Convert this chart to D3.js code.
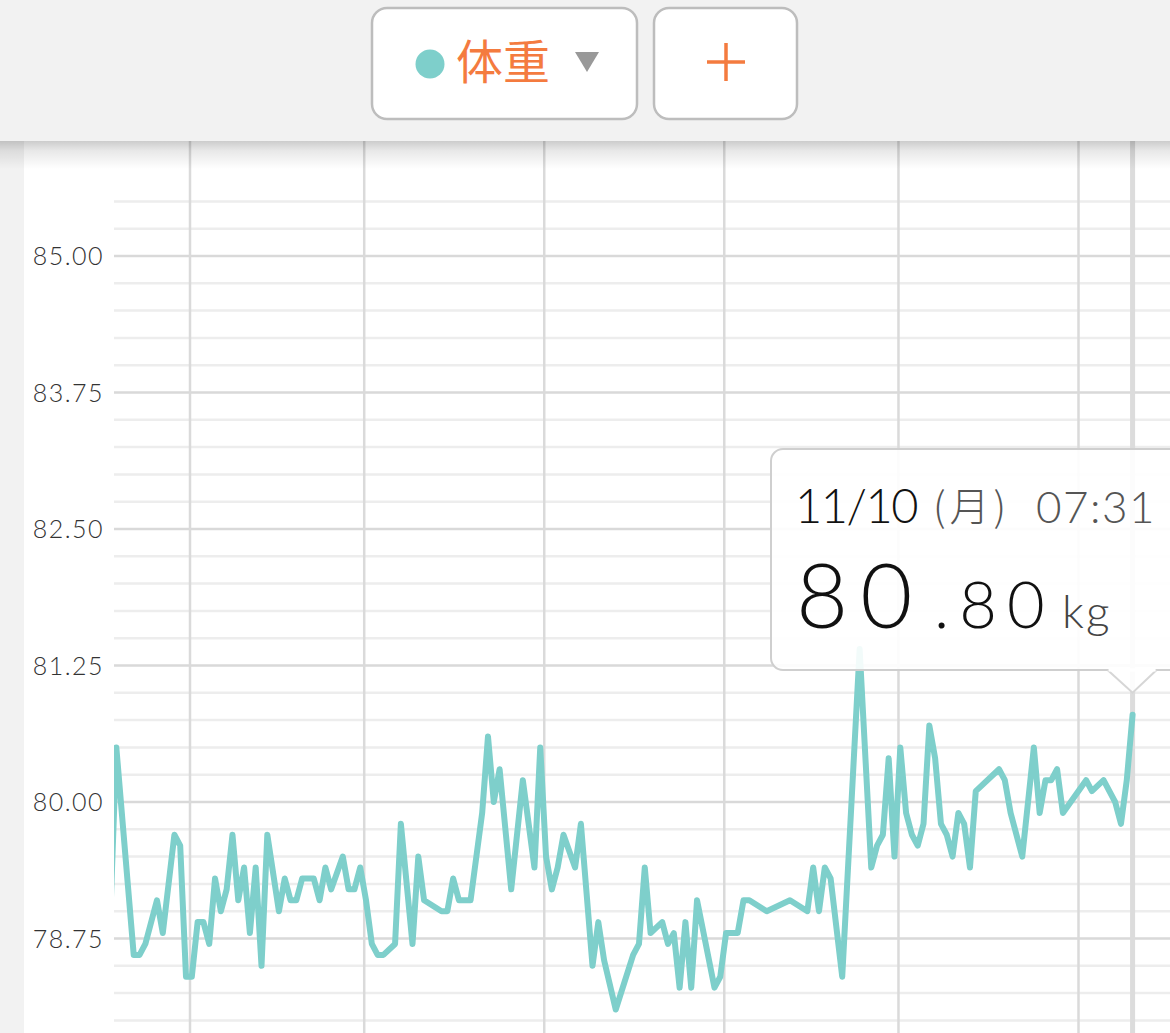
<!DOCTYPE html>
<html>
<head>
<meta charset="utf-8">
<script src="https://cdn.jsdelivr.net/npm/d3@7.9.0/dist/d3.min.js"></script>
<style>
  html, body { margin: 0; padding: 0; background: #f2f2f2; overflow: hidden; }
  svg { display: block; }
  .num { font-family: Lato, "Open Sans", sans-serif; }
</style>
</head>
<body>
<svg id="chart" width="1170" height="1033"></svg>
<script>
// daily weigh-ins (2025)
const dates = [
  '05-18', '05-19', '05-22', '05-23', '05-24', '05-26', '05-27', '05-29', '05-30', '05-31',
  '06-01', '06-02', '06-03', '06-04', '06-05', '06-06', '06-07', '06-08', '06-09', '06-10',
  '06-11', '06-12', '06-13', '06-14', '06-16', '06-17', '06-18', '06-19', '06-20', '06-22',
  '06-23', '06-24', '06-25', '06-27', '06-28', '06-29', '06-30',
  '07-01', '07-02', '07-03', '07-04', '07-06', '07-07', '07-09', '07-10', '07-11', '07-14',
  '07-15', '07-16', '07-17', '07-19', '07-21', '07-22', '07-23', '07-24', '07-26', '07-28',
  '07-30', '07-31',
  '08-01', '08-02', '08-03', '08-04', '08-06', '08-07', '08-09', '08-10', '08-11', '08-13',
  '08-16', '08-17', '08-18', '08-19', '08-21', '08-22', '08-23', '08-24', '08-25', '08-26',
  '08-27', '08-30', '08-31',
  '09-01', '09-03', '09-04', '09-05', '09-08', '09-12', '09-15', '09-16', '09-17', '09-18',
  '09-19', '09-21', '09-24', '09-26', '09-27', '09-28', '09-29', '09-30',
  '10-01', '10-02', '10-03', '10-04', '10-05', '10-06', '10-07', '10-08', '10-09', '10-10',
  '10-11', '10-12', '10-13', '10-14', '10-18', '10-19', '10-20', '10-22', '10-24', '10-25',
  '10-26', '10-27', '10-28', '10-29',
  '11-02', '11-03', '11-05', '11-07', '11-08', '11-09', '11-10'
];
const weights = [
  79.00, 80.50, 78.60, 78.60, 78.70, 79.10, 78.80, 79.70, 79.60, 78.40,
  78.40, 78.90, 78.90, 78.70, 79.30, 79.00, 79.20, 79.70, 79.10, 79.40,
  78.80, 79.40, 78.50, 79.70, 79.00, 79.30, 79.10, 79.10, 79.30, 79.30,
  79.10, 79.40, 79.20, 79.50, 79.20, 79.20, 79.40,
  79.10, 78.70, 78.60, 78.60, 78.70, 79.80, 78.70, 79.50, 79.10, 79.00,
  79.00, 79.30, 79.10, 79.10, 79.90, 80.60, 80.00, 80.30, 79.20, 80.20,
  79.40, 80.50,
  79.50, 79.20, 79.40, 79.70, 79.40, 79.80, 78.50, 78.90, 78.55, 78.10,
  78.60, 78.70, 79.40, 78.80, 78.90, 78.70, 78.80, 78.30, 78.90, 78.30,
  79.10, 78.30, 78.40,
  78.80, 78.80, 79.10, 79.10, 79.00, 79.10, 79.00, 79.40, 79.00, 79.40,
  79.30, 78.40, 81.40, 79.40, 79.60, 79.70, 80.40, 79.50,
  80.50, 79.90, 79.70, 79.60, 79.80, 80.70, 80.40, 79.80, 79.70, 79.50,
  79.90, 79.80, 79.40, 80.10, 80.30, 80.20, 79.90, 79.50, 80.50, 79.90,
  80.20, 80.20, 80.30, 79.90,
  80.20, 80.10, 80.20, 80.00, 79.80, 80.20, 80.80
];
const yTicks = [78.75, 80.00, 81.25, 82.50, 83.75, 85.00];
const selected = { date: '11-10', time: '07:31', weekday: '月', value: 80.80 };

const W = 1170, H = 1033;
const svg = d3.select('#chart');
const parse = d3.timeParse('%Y-%m-%d %H:%M');
const data = dates.map((d, i) => ({ date: parse(`2025-${d} 07:30`), value: weights[i] }));
const selDate = parse(`2025-${selected.date} ${selected.time}`);

const x = d3.scaleTime()
  .domain([new Date(2025, 5, 1), new Date(2025, 10, 1)])
  .range([190, 1078.5]);
const y = d3.scaleLinear().domain([80, 85]).range([802, 256]);

const defs = svg.append('defs');
const shade = defs.append('linearGradient').attr('id', 'shade').attr('x1', 0).attr('x2', 0).attr('y1', 0).attr('y2', 1);
shade.append('stop').attr('offset', 0).attr('stop-color', '#000').attr('stop-opacity', 0.2);
shade.append('stop').attr('offset', 0.35).attr('stop-color', '#000').attr('stop-opacity', 0.09);
shade.append('stop').attr('offset', 1).attr('stop-color', '#000').attr('stop-opacity', 0);
defs.append('clipPath').attr('id', 'plot')
  .append('rect').attr('x', 114).attr('y', 141).attr('width', W - 114).attr('height', H - 141);

// white card
svg.append('rect').attr('x', 24).attr('y', 141).attr('width', W - 24).attr('height', H - 141).attr('fill', '#fff');

// horizontal grid: every 0.25, darker every 1.25
const gridVals = d3.range(77.75, 85.51, 0.25);
svg.append('g').selectAll('line').data(gridVals).join('line')
  .attr('x1', 114).attr('x2', W)
  .attr('y1', d => y(d)).attr('y2', d => y(d))
  .attr('stroke', d => yTicks.some(t => Math.abs(t - d) < 1e-6) ? '#d9d9d9' : '#ededed')
  .attr('stroke-width', 2.5);

// month grid
svg.append('g').selectAll('line').data(d3.timeMonth.range(new Date(2025, 5, 1), new Date(2025, 11, 1))).join('line')
  .attr('x1', d => x(d)).attr('x2', d => x(d))
  .attr('y1', 141).attr('y2', H)
  .attr('stroke', '#dadada').attr('stroke-width', 2.5);

// y labels
svg.append('g').selectAll('text').data(yTicks).join('text')
  .attr('class', 'num')
  .attr('x', 104).attr('y', d => y(d) + 9)
  .attr('text-anchor', 'end')
  .attr('font-size', 25).attr('font-weight', 300)
  .attr('letter-spacing', 1.5)
  .attr('fill', '#333')
  .text(d3.format('.2f'));

// cursor at selected reading
const cx = x(selDate);
svg.append('line').attr('x1', cx).attr('x2', cx).attr('y1', 141).attr('y2', H)
  .attr('stroke', '#dcdcdc').attr('stroke-width', 5);

// weight line
svg.append('path').datum(data)
  .attr('clip-path', 'url(#plot)')
  .attr('fill', 'none')
  .attr('stroke', '#7ecfcb')
  .attr('stroke-width', 6)
  .attr('stroke-linejoin', 'round')
  .attr('stroke-linecap', 'round')
  .attr('d', d3.line().x(d => x(d.date)).y(d => y(d.value)));

// tooltip
const tip = svg.append('g');
const tipTop = 449, tipBot = 670, tipL = 771, tipY = y(selected.value) - 22;
tip.append('rect').attr('x', tipL).attr('y', tipTop).attr('width', 440).attr('height', tipBot - tipTop)
  .attr('rx', 12).attr('fill', '#fff').attr('fill-opacity', 0.9)
  .attr('stroke', '#cfcfcf').attr('stroke-width', 2);
tip.append('path')
  .attr('d', `M${cx - 25},${tipBot}L${cx},${tipY}L${cx + 24},${tipBot}`)
  .attr('fill', '#fff').attr('fill-opacity', 0.9)
  .attr('stroke', '#d6d6d6').attr('stroke-width', 2);
tip.append('line').attr('x1', cx - 24).attr('x2', cx + 23).attr('y1', tipBot).attr('y2', tipBot)
  .attr('stroke', '#fff').attr('stroke-width', 3);

const [mm, dd] = selected.date.split('-').map(Number);
tip.append('text').attr('class', 'num').attr('x', 795).attr('y', 523)
  .attr('font-size', 47).attr('font-weight', 300).attr('fill', '#111').attr('letter-spacing', -1.5)
  .text(`${mm}/${dd}`);
tip.append('text').attr('x', 933).attr('y', 521)
  .attr('font-family', '"Noto Sans CJK JP", sans-serif')
  .attr('font-size', 40).attr('font-weight', 300).attr('fill', '#555').attr('letter-spacing', 4)
  .text(`(${selected.weekday})`);
tip.append('text').attr('class', 'num').attr('x', 1036).attr('y', 523)
  .attr('font-size', 44).attr('font-weight', 300).attr('fill', '#555').attr('letter-spacing', 1.5)
  .text(selected.time);

const [whole, frac] = d3.format('.2f')(selected.value).split('.');
tip.append('text').attr('class', 'num').attr('x', 796).attr('y', 628)
  .attr('font-size', 90).attr('font-weight', 300).attr('fill', '#111').attr('letter-spacing', 12)
  .text(whole);
tip.append('text').attr('class', 'num').attr('x', 934).attr('y', 628)
  .attr('font-size', 65).attr('font-weight', 300).attr('fill', '#111').attr('letter-spacing', 10)
  .text('.' + frac);
tip.append('text').attr('class', 'num').attr('x', 1062).attr('y', 628)
  .attr('font-size', 46).attr('font-weight', 300).attr('fill', '#444').attr('letter-spacing', 2)
  .text('kg');

// header bar
svg.append('rect').attr('width', W).attr('height', 141).attr('fill', '#f2f2f2');
svg.append('rect').attr('y', 141).attr('width', W).attr('height', 28).attr('fill', 'url(#shade)');

const btn = svg.append('g');
btn.append('rect').attr('x', 372).attr('y', 8).attr('width', 265).attr('height', 111).attr('rx', 15)
  .attr('fill', '#fff').attr('stroke', '#bdbdbd').attr('stroke-width', 2.5);
btn.append('circle').attr('cx', 430).attr('cy', 64).attr('r', 14.5).attr('fill', '#7ecfcb');
btn.append('text').attr('x', 456).attr('y', 79)
  .attr('font-family', '"Noto Sans CJK JP", sans-serif').attr('font-size', 47)
  .attr('fill', '#f47b3f').text('体重');
btn.append('path').attr('d', 'M575,52L599,52L587,72Z').attr('fill', '#999');

btn.append('rect').attr('x', 654).attr('y', 8).attr('width', 143).attr('height', 111).attr('rx', 15)
  .attr('fill', '#fff').attr('stroke', '#bdbdbd').attr('stroke-width', 2.5);
btn.append('path').attr('d', 'M707,62H745M726,43V81')
  .attr('stroke', '#f47b3f').attr('stroke-width', 3.5).attr('fill', 'none');
</script>
</body>
</html>
